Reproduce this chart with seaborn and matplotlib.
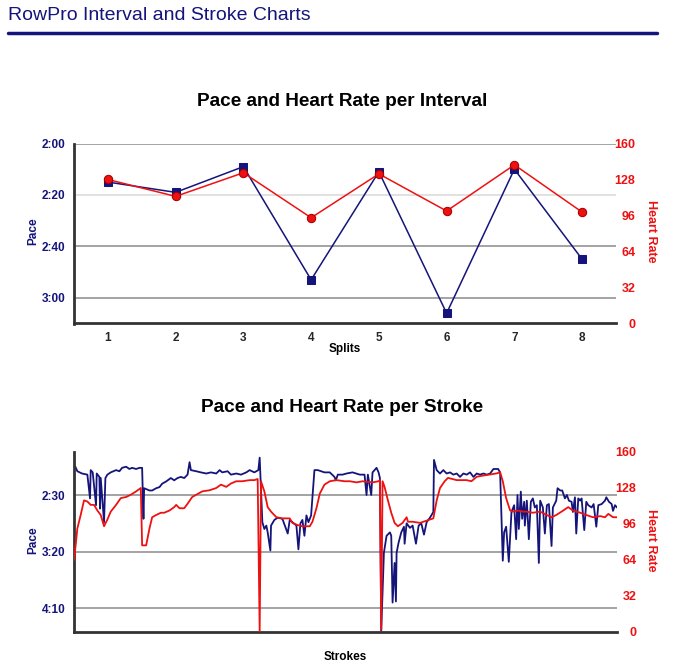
import matplotlib
matplotlib.use("Agg")
import matplotlib.pyplot as plt
from matplotlib.ticker import FuncFormatter, FixedLocator
from matplotlib.lines import Line2D
import seaborn as sns
import pandas as pd

# ---------------- data ----------------
splits = [1, 2, 3, 4, 5, 6, 7, 8]
split_pace_sec = [135, 139, 129, 173, 131, 186, 130, 165]
split_hr = [128, 113, 134, 94, 133, 100, 141, 99]

stroke_pace_idx = [2, 5, 12, 20, 24, 25, 28, 33, 34, 38, 39, 40, 45, 47, 50, 55, 63, 68, 72, 78,
                   83, 87, 93, 98, 102, 104, 105, 113, 117, 123, 128, 132, 138, 145, 150, 155, 160, 165, 170, 173,
                   175, 183, 190, 198, 205, 213, 218, 222, 230, 235, 243, 250, 258, 263, 270, 276, 278, 282, 285, 288,
                   290, 294, 295, 300, 305, 312, 320, 323, 327, 333, 336, 339, 342, 345, 348, 351, 355, 360, 365, 370,
                   375, 383, 390, 392, 395, 402, 408, 417, 428, 435, 438, 440, 445, 447, 453, 456, 458, 460, 464, 468,
                   473, 475, 477, 480, 482, 483, 486, 490, 494, 495, 498, 503, 507, 512, 516, 520, 524, 528, 533, 538,
                   539, 543, 548, 553, 558, 563, 568, 573, 578, 583, 588, 593, 598, 603, 608, 613, 618, 623, 628, 635,
                   638, 642, 644, 647, 651, 655, 659, 662, 664, 666, 669, 671, 674, 675, 678, 681, 684, 687, 690, 693,
                   696, 698, 702, 705, 708, 711, 715, 717, 722, 724, 728, 731, 735, 738, 741, 745, 747, 750, 752, 755,
                   758, 760, 764, 767, 770, 775, 778, 782, 785, 790, 795, 797, 801, 805, 807, 810, 813]
stroke_pace_sec = [125, 129, 131, 132, 153, 128, 130, 159, 131, 134, 162, 135, 174, 135, 132, 130, 128, 129, 126, 125,
                   127, 126, 127, 126, 126, 171, 144, 146, 146, 144, 143, 140, 138, 135, 137, 135, 134, 135, 132, 121,
                   128, 129, 130, 131, 130, 131, 128, 130, 129, 132, 131, 132, 130, 128, 130, 128, 117, 174, 180, 177,
                   183, 199, 177, 172, 170, 171, 184, 172, 174, 177, 198, 175, 172, 186, 168, 174, 168, 128, 128, 129,
                   130, 130, 134, 137, 132, 132, 131, 130, 132, 132, 150, 132, 150, 130, 126, 130, 135, 270, 201, 186,
                   183, 186, 245, 210, 244, 201, 192, 183, 178, 193, 175, 179, 177, 193, 177, 175, 185, 174, 170, 165,
                   119, 128, 131, 128, 131, 130, 132, 131, 134, 131, 132, 130, 134, 131, 132, 131, 132, 131, 127, 127,
                   130, 208, 183, 178, 209, 165, 159, 189, 150, 180, 147, 171, 156, 177, 155, 189, 156, 153, 161, 159,
                   210, 155, 161, 184, 159, 158, 195, 161, 155, 144, 146, 146, 153, 150, 155, 156, 165, 152, 184, 153,
                   155, 153, 181, 156, 159, 161, 158, 178, 159, 158, 155, 152, 156, 158, 164, 159, 161]

stroke_hr_idx = [0, 3, 5, 10, 15, 20, 25, 30, 35, 40, 45, 50, 55, 63, 70, 78, 85, 93, 100, 102,
                 108, 113, 117, 123, 130, 135, 143, 150, 153, 158, 165, 170, 177, 183, 192, 203, 213, 220, 228, 235,
                 243, 252, 263, 270, 275, 278, 280, 285, 290, 295, 303, 312, 323, 327, 335, 342, 353, 357, 363, 368,
                 375, 383, 393, 405, 413, 423, 432, 447, 456, 458, 460, 462, 465, 470, 475, 480, 485, 492, 498, 500,
                 507, 518, 528, 538, 543, 548, 555, 560, 573, 588, 595, 603, 612, 623, 633, 638, 642, 647, 653, 657,
                 665, 672, 677, 687, 698, 708, 715, 722, 730, 740, 747, 758, 767, 777, 788, 795, 800, 807, 813]
stroke_hr = [64, 80, 92, 104, 117, 116, 113, 113, 108, 104, 94, 100, 107, 113, 119, 120, 122, 125, 128, 77,
             77, 92, 102, 104, 106, 106, 108, 111, 113, 110, 110, 114, 120, 122, 125, 126, 128, 131, 129, 132,
             134, 134, 135, 135, 136, 0, 134, 125, 111, 107, 102, 101, 101, 97, 95, 94, 94, 98, 110, 123,
             131, 134, 135, 134, 134, 133, 134, 133, 134, 135, 2, 134, 129, 117, 106, 97, 94, 97, 102, 98,
             98, 97, 99, 101, 117, 128, 134, 137, 135, 135, 134, 138, 139, 140, 141, 142, 134, 119, 108, 107,
             108, 107, 107, 106, 107, 104, 102, 104, 107, 111, 108, 106, 104, 102, 103, 102, 105, 102, 102]

pace_ticks_top = [120, 140, 160, 180]
pace_ticks_bottom = [150, 200, 250]
hr_ticks = [0, 32, 64, 96, 128, 160]

# ---------------- style ----------------
sns.set_style("white")
plt.rcParams["font.family"] = ["Liberation Sans", "DejaVu Sans"]

NAVY = "#14147a"
RED = "#ee1111"
W, H = 677, 668

fig = plt.figure(figsize=(W / 100, H / 100), dpi=100)


def fx(x):
    return x / W


def fy(y):
    return 1 - y / H


def mmss(v, pos=None):
    v = int(round(v))
    return f"{v // 60}:{v % 60:02d}"


def style_axes(ax, ax2, pace_ticks, grid_light=()):
    for s in ["top", "right"]:
        ax.spines[s].set_visible(False)
        ax2.spines[s].set_visible(False)
    for s in ["left", "bottom"]:
        ax.spines[s].set_color("#333333")
        ax.spines[s].set_linewidth(2)
        ax2.spines[s].set_visible(False)
    ax.yaxis.set_major_locator(FixedLocator(pace_ticks))
    ax.yaxis.set_major_formatter(FuncFormatter(mmss))
    ax.tick_params(axis="y", length=0, pad=6, labelsize=8.5, labelcolor=NAVY)
    for lab in ax.get_yticklabels():
        lab.set_fontweight("bold")
    ax2.set_ylim(0, 160)
    ax2.yaxis.set_major_locator(FixedLocator(hr_ticks))
    ax2.tick_params(axis="y", length=0, pad=14, labelsize=9, labelcolor=RED)
    for lab in ax2.get_yticklabels():
        lab.set_fontweight("bold")
        lab.set_horizontalalignment("right")
    for t in pace_ticks:
        col = "#d8d8d8" if t in grid_light else "#8a8a8a"
        ax.axhline(t, color=col, lw=1.1, zorder=0)
    ax.set_ylabel("")
    ax.set_xlabel("")
    ax2.set_ylabel("")
    ax2.set_xlabel("")
    ax.grid(False)
    ax2.grid(False)


# ---------------- header ----------------
fig.text(fx(8), fy(15), "RowPro Interval and Stroke Charts", ha="left", va="center",
         fontsize=14, color=NAVY)
fig.add_artist(Line2D([fx(8), fx(657)], [fy(33), fy(33)], color=NAVY, lw=2.5,
                      transform=fig.transFigure))

# ---------------- top chart ----------------
ax1 = fig.add_axes([fx(74), fy(323.5), fx(616 - 74), (323.5 - 143.5) / H])
df_split = pd.DataFrame({"Split": splits, "Pace": split_pace_sec, "HR": split_hr})
sns.lineplot(data=df_split, x="Split", y="Pace", ax=ax1, color=NAVY, lw=1.1,
             marker="s", markersize=6, markeredgecolor=NAVY, markerfacecolor=NAVY)
ax1.set_xlim(0.5, 8.5)
ax1.set_ylim(190, 120)
ax1b = ax1.twinx()
sns.lineplot(data=df_split, x="Split", y="HR", ax=ax1b, color=RED, lw=1.1,
             marker="o", markersize=6, markeredgecolor="#aa0000", markerfacecolor=RED)
ax1b.set_xlim(0.5, 8.5)
style_axes(ax1, ax1b, pace_ticks_top, grid_light=(140,))
ax1.set_xticks(splits)
ax1.set_xticklabels([str(s) for s in splits], fontweight="bold", fontsize=8.5)
ax1.tick_params(axis="x", length=0, pad=6)

fig.text(fx(342), fy(101), "Pace and Heart Rate per Interval", ha="center", va="center",
         fontsize=13.7, fontweight="bold", color="black")
fig.text(fx(33), fy(231), "Pace", ha="center", va="center", rotation=90,
         fontsize=8.5, fontweight="bold", color=NAVY)
fig.text(fx(651), fy(231), "Heart Rate", ha="center", va="center", rotation=-90,
         fontsize=9, fontweight="bold", color=RED)
fig.text(fx(345), fy(349), "Splits", ha="center", va="center",
         fontsize=8.5, fontweight="bold", color="black")

# ---------------- bottom chart ----------------
ax2 = fig.add_axes([fx(74), fy(632), fx(617 - 74), 180 / H])
df_pace = pd.DataFrame({"Stroke": stroke_pace_idx, "Pace": stroke_pace_sec})
df_hr = pd.DataFrame({"Stroke": stroke_hr_idx, "HR": stroke_hr})
sns.lineplot(data=df_pace, x="Stroke", y="Pace", ax=ax2, color=NAVY, lw=1.3)
ax2.set_xlim(0, 813)
ax2.set_ylim(271, 112)
ax2b = ax2.twinx()
sns.lineplot(data=df_hr, x="Stroke", y="HR", ax=ax2b, color=RED, lw=1.3)
ax2b.set_xlim(0, 813)
style_axes(ax2, ax2b, pace_ticks_bottom)
ax2.set_xticks([])
ax2b.set_xticks([])

fig.text(fx(342), fy(408), "Pace and Heart Rate per Stroke", ha="center", va="center",
         fontsize=13.7, fontweight="bold", color="black")
fig.text(fx(33), fy(540), "Pace", ha="center", va="center", rotation=90,
         fontsize=8.5, fontweight="bold", color=NAVY)
fig.text(fx(651), fy(540), "Heart Rate", ha="center", va="center", rotation=-90,
         fontsize=9, fontweight="bold", color=RED)
fig.text(fx(345), fy(657), "Strokes", ha="center", va="center",
         fontsize=8.5, fontweight="bold", color="black")

fig.savefig("out.png", dpi=100)
